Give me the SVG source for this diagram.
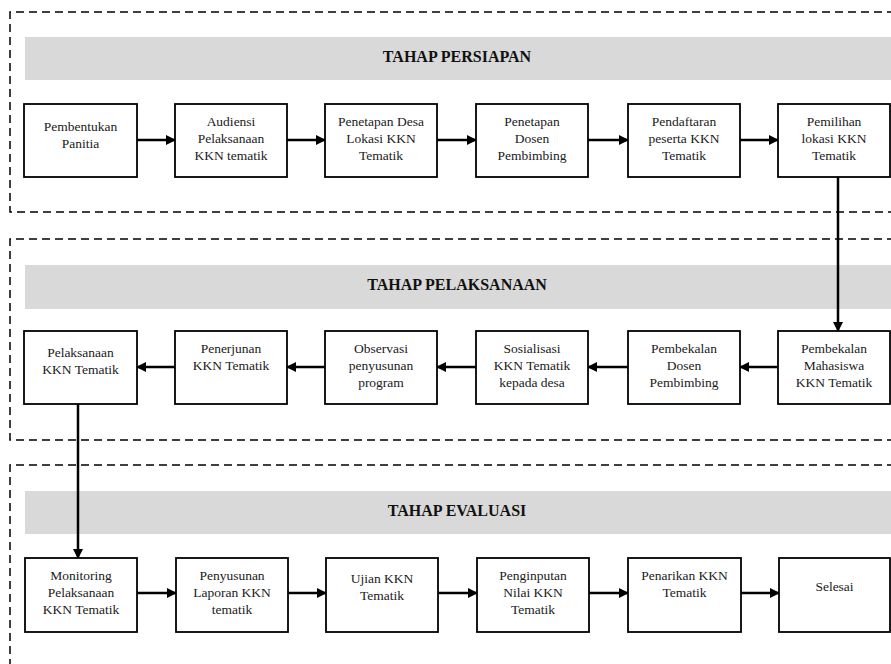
<svg xmlns="http://www.w3.org/2000/svg" width="891" height="664" viewBox="0 0 891 664">
<style>
.frame{fill:none;stroke:#000;stroke-width:1.5;stroke-dasharray:8 5}
.bar{fill:#d9d9d9}
.title{font-family:"Liberation Serif",serif;font-weight:bold;font-size:16px;fill:#111;text-anchor:middle}
.box{fill:#fff;stroke:#000;stroke-width:1.8}
.lbl{font-family:"Liberation Serif",serif;font-size:13.5px;fill:#1a1a1a;text-anchor:middle}
.con{fill:none;stroke:#000;stroke-width:2.5}
</style>
<defs>
<marker id="ah" markerWidth="10" markerHeight="10" refX="9" refY="5" orient="auto" markerUnits="userSpaceOnUse">
<path d="M0,0 L10,5 L0,10 Z" fill="#000"/>
</marker>
</defs>
<rect width="891" height="664" fill="#fff"/>
<g id="sections">
<path class="frame" d="M895,12 H10 V212 H895"/>
<rect class="bar" x="25" y="37" width="866" height="43"/>
<text class="title" x="457" y="62">TAHAP PERSIAPAN</text>
<path class="frame" d="M895,239 H10 V440 H895"/>
<rect class="bar" x="25" y="265" width="866" height="44"/>
<text class="title" x="457" y="290">TAHAP PELAKSANAAN</text>
<path class="frame" d="M895,465 H10 V670"/>
<rect class="bar" x="25" y="491" width="866" height="43"/>
<text class="title" x="457" y="516">TAHAP EVALUASI</text>
</g>
<g id="connectors">
<line class="con" x1="137" y1="140" x2="175" y2="140" marker-end="url(#ah)"/>
<line class="con" x1="287" y1="140" x2="325" y2="140" marker-end="url(#ah)"/>
<line class="con" x1="437" y1="140" x2="476" y2="140" marker-end="url(#ah)"/>
<line class="con" x1="588" y1="140" x2="628" y2="140" marker-end="url(#ah)"/>
<line class="con" x1="740" y1="140" x2="778" y2="140" marker-end="url(#ah)"/>
<line class="con" x1="838" y1="177" x2="838" y2="331" marker-end="url(#ah)"/>
<line class="con" x1="778" y1="367" x2="740" y2="367" marker-end="url(#ah)"/>
<line class="con" x1="628" y1="367" x2="588" y2="367" marker-end="url(#ah)"/>
<line class="con" x1="476" y1="367" x2="437" y2="367" marker-end="url(#ah)"/>
<line class="con" x1="325" y1="367" x2="287" y2="367" marker-end="url(#ah)"/>
<line class="con" x1="175" y1="367" x2="137" y2="367" marker-end="url(#ah)"/>
<line class="con" x1="78" y1="404" x2="78" y2="558" marker-end="url(#ah)"/>
<line class="con" x1="137" y1="593" x2="176" y2="593" marker-end="url(#ah)"/>
<line class="con" x1="288" y1="593" x2="326" y2="593" marker-end="url(#ah)"/>
<line class="con" x1="438" y1="593" x2="477" y2="593" marker-end="url(#ah)"/>
<line class="con" x1="589" y1="593" x2="628" y2="593" marker-end="url(#ah)"/>
<line class="con" x1="741" y1="593" x2="779" y2="593" marker-end="url(#ah)"/>
</g>
<g id="n1"><rect class="box" x="24" y="104" width="113" height="73"/><text class="lbl" x="80.5" y="131">Pembentukan</text><text class="lbl" x="80.5" y="148">Panitia</text></g>
<g id="n2"><rect class="box" x="175" y="104" width="112" height="73"/><text class="lbl" x="231" y="126">Audiensi</text><text class="lbl" x="231" y="143">Pelaksanaan</text><text class="lbl" x="231" y="160">KKN tematik</text></g>
<g id="n3"><rect class="box" x="325" y="104" width="112" height="73"/><text class="lbl" x="381" y="126">Penetapan Desa</text><text class="lbl" x="381" y="143">Lokasi KKN</text><text class="lbl" x="381" y="160">Tematik</text></g>
<g id="n4"><rect class="box" x="476" y="104" width="112" height="73"/><text class="lbl" x="532" y="126">Penetapan</text><text class="lbl" x="532" y="143">Dosen</text><text class="lbl" x="532" y="160">Pembimbing</text></g>
<g id="n5"><rect class="box" x="628" y="104" width="112" height="73"/><text class="lbl" x="684" y="126">Pendaftaran</text><text class="lbl" x="684" y="143">peserta KKN</text><text class="lbl" x="684" y="160">Tematik</text></g>
<g id="n6"><rect class="box" x="778" y="104" width="112" height="73"/><text class="lbl" x="834" y="126">Pemilihan</text><text class="lbl" x="834" y="143">lokasi KKN</text><text class="lbl" x="834" y="160">Tematik</text></g>
<g id="n7"><rect class="box" x="778" y="331" width="112" height="73"/><text class="lbl" x="834" y="353">Pembekalan</text><text class="lbl" x="834" y="370">Mahasiswa</text><text class="lbl" x="834" y="387">KKN Tematik</text></g>
<g id="n8"><rect class="box" x="628" y="331" width="112" height="73"/><text class="lbl" x="684" y="353">Pembekalan</text><text class="lbl" x="684" y="370">Dosen</text><text class="lbl" x="684" y="387">Pembimbing</text></g>
<g id="n9"><rect class="box" x="476" y="331" width="112" height="73"/><text class="lbl" x="532" y="353">Sosialisasi</text><text class="lbl" x="532" y="370">KKN Tematik</text><text class="lbl" x="532" y="387">kepada desa</text></g>
<g id="n10"><rect class="box" x="325" y="331" width="112" height="73"/><text class="lbl" x="381" y="353">Observasi</text><text class="lbl" x="381" y="370">penyusunan</text><text class="lbl" x="381" y="387">program</text></g>
<g id="n11"><rect class="box" x="175" y="331" width="112" height="73"/><text class="lbl" x="231" y="353">Penerjunan</text><text class="lbl" x="231" y="370">KKN Tematik</text></g>
<g id="n12"><rect class="box" x="24" y="331" width="113" height="73"/><text class="lbl" x="80.5" y="357">Pelaksanaan</text><text class="lbl" x="80.5" y="374">KKN Tematik</text></g>
<g id="n13"><rect class="box" x="25" y="558" width="112" height="74"/><text class="lbl" x="81" y="580">Monitoring</text><text class="lbl" x="81" y="597">Pelaksanaan</text><text class="lbl" x="81" y="614">KKN Tematik</text></g>
<g id="n14"><rect class="box" x="176" y="558" width="112" height="74"/><text class="lbl" x="232" y="580">Penyusunan</text><text class="lbl" x="232" y="597">Laporan KKN</text><text class="lbl" x="232" y="614">tematik</text></g>
<g id="n15"><rect class="box" x="326" y="558" width="112" height="74"/><text class="lbl" x="382" y="583">Ujian KKN</text><text class="lbl" x="382" y="600">Tematik</text></g>
<g id="n16"><rect class="box" x="477" y="558" width="112" height="74"/><text class="lbl" x="533" y="580">Penginputan</text><text class="lbl" x="533" y="597">Nilai KKN</text><text class="lbl" x="533" y="614">Tematik</text></g>
<g id="n17"><rect class="box" x="628" y="558" width="113" height="74"/><text class="lbl" x="684.5" y="580">Penarikan KKN</text><text class="lbl" x="684.5" y="597">Tematik</text></g>
<g id="n18"><rect class="box" x="779" y="558" width="111" height="74"/><text class="lbl" x="834.5" y="591">Selesai</text></g>
</svg>
